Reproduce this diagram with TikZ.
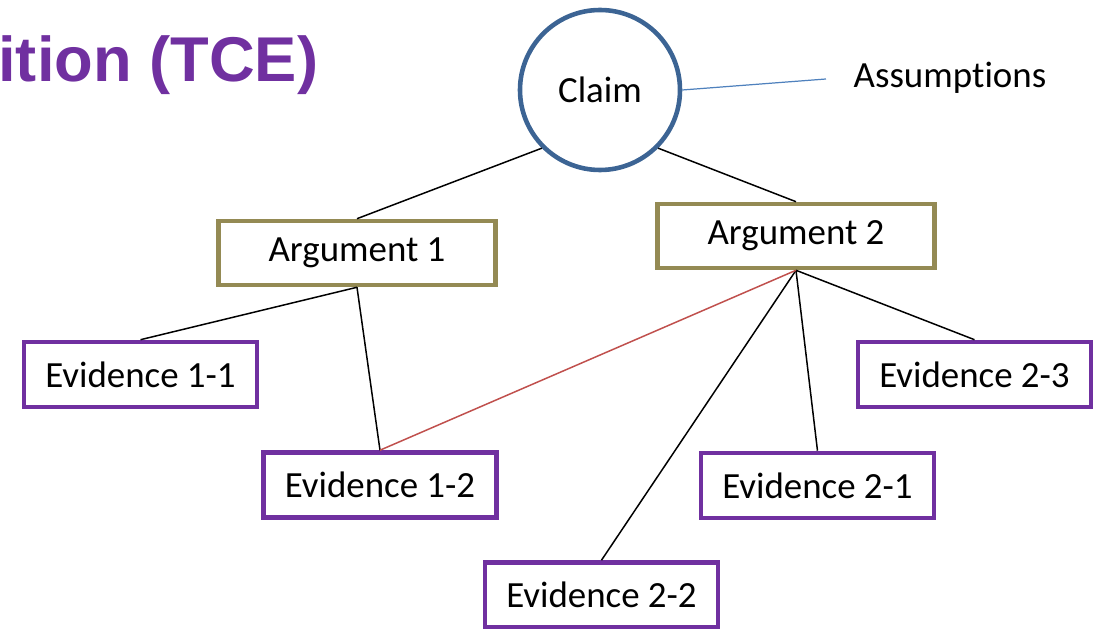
\documentclass[tikz,border=0pt]{standalone}
\usepackage{fontspec}
\setmainfont{Carlito}[Ligatures=NoCommon, Contextuals=NoAlternate]
\newfontfamily\titlefont{Liberation Sans}
\definecolor{claimblue}{HTML}{3C6494}
\definecolor{argolive}{HTML}{948A54}
\definecolor{evpurple}{HTML}{7030A0}
\definecolor{linkred}{HTML}{C0504D}
\definecolor{assumblue}{HTML}{4F81BD}
\begin{document}
\begin{tikzpicture}[scale=0.2]
		\tikzstyle{every node}+=[inner sep=0pt, font=\fontsize{21}{25}\selectfont]
		\tikzstyle{claimnode}=[circle, draw=claimblue, line width=2.6pt, minimum size=3.2cm]
		\tikzstyle{argbox}=[rectangle, draw=argolive, line width=2.6pt, minimum width=5.54cm, minimum height=1.28cm]
		\tikzstyle{evbox}=[rectangle, draw=evpurple, line width=2.6pt, minimum width=4.66cm, minimum height=1.3cm]
		\tikzstyle{link}=[black, line width=0.85pt]
		\useasboundingbox (0,0) rectangle (109.9,-62.9);
		\node [anchor=base west, text=evpurple, font=\titlefont\bfseries\fontsize{36}{40}\selectfont] (title) at (-0.2,-8.2) {ition (TCE)};
		\node [claimnode] (claim) at (60.0,-9.0) {Claim};
		\node (assum) at (95.0,-7.8) {Assump\kern0pt tions};
		\coordinate (assumend) at (82.6,-7.9);
		\node [argbox] (arg1) at (35.7,-25.3) {Argument 1};
		\node [argbox] (arg2) at (79.6,-23.6) {Argument 2};
		\node [evbox] (ev11) at (14.05,-37.45) {Evidence 1-1};
		\node [evbox] (ev12) at (38.0,-48.5) {Evidence 1-2};
		\node [evbox] (ev21) at (81.75,-48.55) {Evidence 2-1};
		\node [evbox] (ev22) at (60.15,-59.5) {Evidence 2-2};
		\node [evbox] (ev23) at (97.45,-37.45) {Evidence 2-3};
		\draw [assumblue, line width=0.7pt] (claim.east) -- (assumend);
		\draw [link] (claim.south west) -- (arg1.north);
		\draw [link] (claim.south east) -- (arg2.north);
		\draw [link] (arg1.south) -- (ev11.north);
		\draw [link] (arg1.south) -- (ev12.north);
		\draw [link] (arg2.south) -- (ev22.north);
		\draw [link] (arg2.south) -- (ev21.north);
		\draw [link] (arg2.south) -- (ev23.north);
		\draw [linkred, line width=0.85pt] (arg2.south) -- (ev12.north);
	\end{tikzpicture}
\end{document}
